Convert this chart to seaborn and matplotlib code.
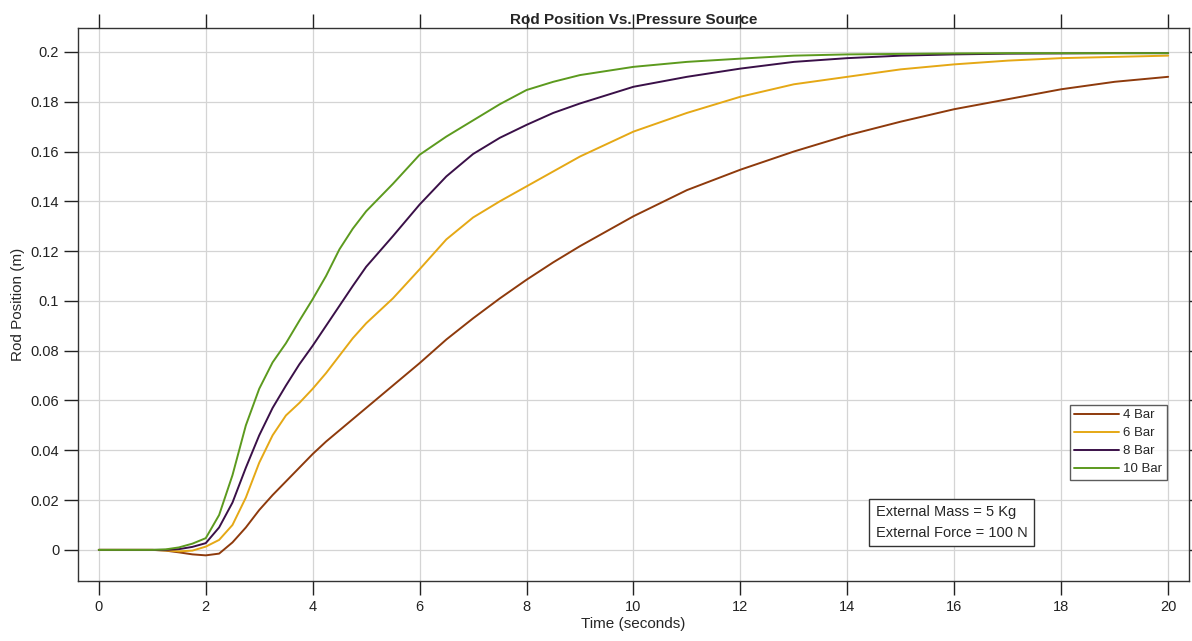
import matplotlib
matplotlib.use("Agg")
import matplotlib.pyplot as plt
import seaborn as sns
import pandas as pd

sns.set_theme(style="whitegrid")
plt.rcParams['font.family'] = ['Liberation Sans', 'DejaVu Sans']

# time points (s)
t = [0, 0.5, 1, 1.25, 1.5, 1.75, 2, 2.25, 2.5, 2.75, 3, 3.25, 3.5, 3.75, 4, 4.25, 4.5, 4.75, 5, 5.5, 6, 6.5,
     7, 7.5, 8, 8.5, 9, 10, 11, 12, 13, 14, 15, 16, 17, 18, 19, 20]

# rod position (m) for each source pressure
bar4 = [0, 0, 0, -0.0003, -0.001, -0.0018, -0.0022, -0.0015, 0.003, 0.009, 0.016, 0.022, 0.0275, 0.033,
        0.0385, 0.0435, 0.048, 0.0525, 0.057, 0.066, 0.075, 0.0845, 0.093, 0.101, 0.1085, 0.1155, 0.122,
        0.134, 0.1445, 0.1527, 0.160, 0.1665, 0.172, 0.177, 0.181, 0.185, 0.188, 0.190]
bar6 = [0, 0, 0, -0.0002, -0.0006, -0.0003, 0.0013, 0.004, 0.010, 0.021, 0.035, 0.046, 0.054, 0.059,
        0.0647, 0.071, 0.078, 0.085, 0.091, 0.101, 0.1127, 0.1247, 0.1335, 0.140, 0.146, 0.152, 0.158,
        0.168, 0.1755, 0.182, 0.187, 0.190, 0.193, 0.195, 0.1965, 0.1975, 0.198, 0.1985]
bar8 = [0, 0, 0, 0.0, 0.0003, 0.0012, 0.0027, 0.009, 0.019, 0.033, 0.046, 0.057, 0.066, 0.0745,
        0.082, 0.090, 0.098, 0.106, 0.1137, 0.126, 0.1387, 0.150, 0.159, 0.1655, 0.1707, 0.1755, 0.1793,
        0.186, 0.190, 0.1933, 0.196, 0.1975, 0.1985, 0.199, 0.1993, 0.1994, 0.1995, 0.1995]
bar10 = [0, 0, 0, 0.0002, 0.001, 0.0025, 0.0047, 0.014, 0.030, 0.050, 0.0647, 0.0753, 0.083, 0.092,
         0.1007, 0.110, 0.1207, 0.129, 0.136, 0.147, 0.1587, 0.166, 0.1725, 0.179, 0.1847, 0.188, 0.1907,
         0.194, 0.196, 0.1973, 0.1985, 0.199, 0.1992, 0.1994, 0.1995, 0.1995, 0.1995, 0.1995]

labels = ["4 Bar", "6 Bar", "8 Bar", "10 Bar"]
colors = ["#8E3A0C", "#E5A815", "#3A1048", "#5C9A1E"]

frames = []
for lab, vals in zip(labels, [bar4, bar6, bar8, bar10]):
    frames.append(pd.DataFrame({"t": t, "pos": vals, "src": lab}))
df = pd.concat(frames, ignore_index=True)

fig = plt.figure(figsize=(11.92, 6.41), dpi=100)
ax = fig.add_axes([0.0654, 0.0936, 0.9321, 0.8627])

sns.lineplot(data=df, x="t", y="pos", hue="src", palette=colors, hue_order=labels,
             linewidth=1.4, ax=ax)

ax.set_xlim(-0.39, 20.39)
ax.set_ylim(-0.0125, 0.2096)
ax.set_xticks(range(0, 21, 2))
ax.set_yticks([0, 0.02, 0.04, 0.06, 0.08, 0.1, 0.12, 0.14, 0.16, 0.18, 0.2])
ax.set_yticklabels(["0", "0.02", "0.04", "0.06", "0.08", "0.1", "0.12", "0.14", "0.16", "0.18", "0.2"])

ax.grid(True, color="#d4d4d4", linewidth=0.9)
for s in ax.spines.values():
    s.set_color("#333333")
    s.set_linewidth(1.0)
ax.tick_params(axis="both", direction="out", length=10, width=1.0, color="#222222",
               labelsize=10.5, labelcolor="#222222", top=True, right=True, bottom=True, left=True)

ax.set_xlabel("Time (seconds)", fontsize=11, labelpad=2)
ax.set_ylabel("Rod Position (m)", fontsize=11)
ax.set_title("Rod Position Vs. Pressure Source", fontsize=11, fontweight="bold", pad=3)

leg = ax.legend(loc="lower right", bbox_to_anchor=(0.980, 0.183), fontsize=9.5,
                frameon=True, fancybox=False, handlelength=3.4, handletextpad=0.3,
                borderpad=0.35, labelspacing=0.43, borderaxespad=0)
leg.get_frame().set_edgecolor("#333333")
leg.get_frame().set_linewidth(1.0)

ax.text(0.718, 0.1058, "External Mass = 5 Kg\nExternal Force = 100 N", transform=ax.transAxes,
        fontsize=10.5, va="center", ha="left", linespacing=1.6,
        bbox=dict(boxstyle="square,pad=0.45", facecolor="white", edgecolor="#333333", linewidth=1.0))

fig.savefig("out.png", dpi=100)
